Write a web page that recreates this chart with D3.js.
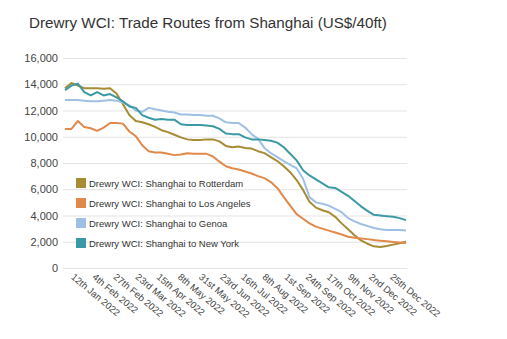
<!DOCTYPE html>
<html>
<head>
<meta charset="utf-8">
<script src="https://cdn.jsdelivr.net/npm/d3@7"></script>
<style>
  body { margin: 0; background: #fff; }
  text { font-family: "Liberation Sans", Arial, sans-serif; }
</style>
</head>
<body>
<div id="holder"></div>
<script>
// weekly WCI readings (Thursdays)
var weeks = ["2022-01-06","2022-01-13","2022-01-20","2022-01-27","2022-02-03","2022-02-10","2022-02-17","2022-02-24",
  "2022-03-03","2022-03-10","2022-03-17","2022-03-24","2022-03-31","2022-04-07","2022-04-14","2022-04-21","2022-04-28",
  "2022-05-05","2022-05-12","2022-05-19","2022-05-26","2022-06-02","2022-06-09","2022-06-16","2022-06-23","2022-06-30",
  "2022-07-07","2022-07-14","2022-07-21","2022-07-28","2022-08-04","2022-08-11","2022-08-18","2022-08-25",
  "2022-09-01","2022-09-08","2022-09-15","2022-09-22","2022-09-29","2022-10-06","2022-10-13","2022-10-20","2022-10-27",
  "2022-11-03","2022-11-10","2022-11-17","2022-11-24","2022-12-01","2022-12-08","2022-12-15","2022-12-22","2022-12-29",
  "2023-01-05","2023-01-12"];

var rotterdam = [13700,14100,13900,13700,13700,13700,13650,13700,13300,12500,
  11650,11200,11100,10950,10750,10500,10350,10150,9950,9800,
  9750,9750,9800,9800,9650,9300,9200,9250,9150,9100,
  8900,8750,8450,8150,7750,7300,6700,5950,5050,4600,
  4400,4250,3900,3400,2950,2500,2100,1850,1650,1600,
  1680,1780,1880,2000];
var losAngeles = [10600,10600,11200,10750,10650,10450,10700,11050,11050,11000,
  10400,10050,9350,8900,8800,8800,8700,8600,8650,8750,
  8700,8700,8700,8500,8100,7750,7600,7500,7350,7200,
  7000,6850,6550,6100,5400,4750,4100,3750,3400,3150,
  3000,2850,2700,2550,2380,2300,2250,2200,2130,2080,
  2030,1990,1950,1900];
var genoa = [12800,12800,12800,12750,12700,12700,12750,12800,12750,12600,
  12400,12000,11900,12200,12100,12000,11900,11850,11700,11700,
  11650,11650,11600,11600,11400,11100,11050,11050,10700,10200,
  9850,9150,8750,8450,8150,7850,7600,6800,5400,5000,
  4900,4750,4500,4250,3800,3550,3350,3200,3050,2950,
  2900,2900,2900,2850];
var newYork = [13550,13900,14050,13400,13150,13400,13150,13250,13000,12700,
  12300,12200,11650,11450,11300,11350,11300,11300,10950,10900,
  10900,10900,10850,10800,10600,10250,10200,10200,9950,9800,
  9800,9750,9700,9550,9200,8700,8200,7450,7050,6750,
  6450,6150,6100,5800,5500,5100,4700,4350,4050,4000,
  3950,3900,3800,3650];

var seriesNames = ["Drewry WCI: Shanghai to Rotterdam","Drewry WCI: Shanghai to Los Angeles",
  "Drewry WCI: Shanghai to Genoa","Drewry WCI: Shanghai to New York"];
var seriesColors = ["#a68c34","#e0894a","#9fc0e4","#3b99a5"];

var tickDates = ["2022-01-12","2022-02-04","2022-02-27","2022-03-23","2022-04-15","2022-05-08","2022-05-31","2022-06-23",
  "2022-07-16","2022-08-08","2022-09-01","2022-09-24","2022-10-17","2022-11-09","2022-12-02","2022-12-25"];
var tickLabels = ["12th Jan 2022","4th Feb 2022","27th Feb 2022","23rd Mar 2022","15th Apr 2022","8th May 2022",
  "31st May 2022","23rd Jun 2022","16th Jul 2022","8th Aug 2022","1st Sep 2022","24th Sep 2022","17th Oct 2022",
  "9th Nov 2022","2nd Dec 2022","25th Dec 2022"];
var yTicks = [0,2000,4000,6000,8000,10000,12000,14000,16000];

var WIDTH = 507, HEIGHT = 339;
var parse = d3.timeParse("%Y-%m-%d");

var svg = d3.select("#holder").append("svg")
  .attr("width", WIDTH)
  .attr("height", HEIGHT);

svg.append("text")
  .attr("x", 29)
  .attr("y", 28)
  .attr("fill", "#333")
  .style("font-size", "15.2px")
  .text("Drewry WCI: Trade Routes from Shanghai (US$/40ft)");

var x = d3.scaleTime()
  .domain(d3.extent(weeks, parse))
  .range([65, 406]);
var y = d3.scaleLinear()
  .domain([0, 16000])
  .range([268, 58]);

// gridlines + y labels
var yAxis = svg.append("g")
  .attr("transform", "translate(63,0)")
  .call(d3.axisLeft(y)
    .tickValues(yTicks)
    .tickSize(-344)
    .tickPadding(5)
    .tickFormat(d3.format(",")));
yAxis.select(".domain").remove();
yAxis.selectAll("line").attr("stroke", "#e3e3e3");
yAxis.selectAll("text")
  .attr("fill", "#444")
  .style("font-size", "11px");

// x labels, slanted
svg.append("g").selectAll("text")
  .data(tickDates)
  .join("text")
  .attr("transform", function(d) { return "translate(" + x(parse(d)) + ",278) rotate(40)"; })
  .attr("fill", "#444")
  .style("font-size", "9.5px")
  .text(function(d, i) { return tickLabels[i]; });

var line = d3.line()
  .x(function(d, i) { return x(parse(weeks[i])); })
  .y(function(d) { return y(d); });

[rotterdam, losAngeles, genoa, newYork].forEach(function(s, i) {
  svg.append("path")
    .datum(s)
    .attr("fill", "none")
    .attr("stroke", seriesColors[i])
    .attr("stroke-width", 2)
    .attr("stroke-linejoin", "round")
    .attr("d", line);
});

// legend
var legend = svg.append("g").selectAll("g")
  .data(seriesNames)
  .join("g")
  .attr("transform", function(d, i) { return "translate(76," + (178 + i * 20) + ")"; });
legend.append("rect")
  .attr("width", 10)
  .attr("height", 10)
  .attr("fill", function(d, i) { return seriesColors[i]; });
legend.append("text")
  .attr("x", 13)
  .attr("y", 8.5)
  .attr("fill", "#333")
  .style("font-size", "9.5px")
  .text(function(d) { return d; });
</script>
</body>
</html>
